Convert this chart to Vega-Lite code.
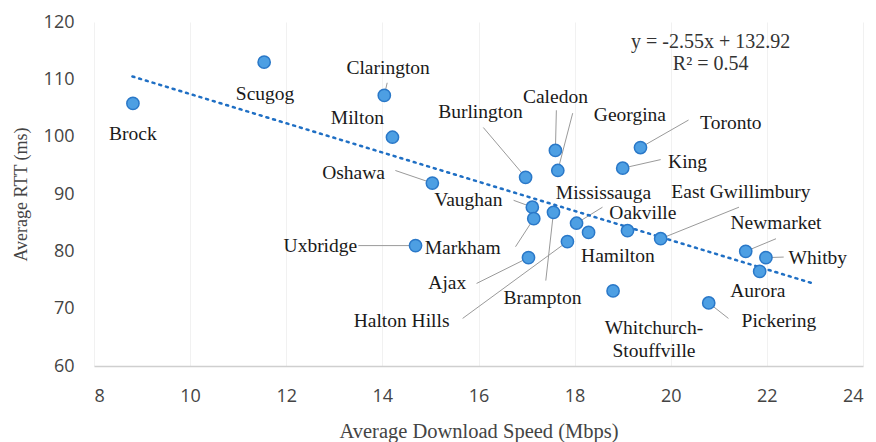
{
  "$schema": "https://vega.github.io/schema/vega-lite/v6.json",
  "width": 769,
  "height": 344,
  "autosize": "none",
  "padding": {"left": 94, "top": 22, "right": 13, "bottom": 76},
  "background": "white",
  "config": {"view": {"stroke": null}},
  "datasets": {
    "towns": [
      {"name": "Brock", "speed": 8.81, "rtt": 105.8, "lx": 8.81, "ly": 100.4, "ex": null, "ey": null},
      {"name": "Scugog", "speed": 11.54, "rtt": 113.0, "lx": 11.56, "ly": 107.4, "ex": null, "ey": null},
      {"name": "Clarington", "speed": 14.04, "rtt": 107.2, "lx": 14.12, "ly": 112.0, "ex": 14.1, "ey": 109.4},
      {"name": "Milton", "speed": 14.21, "rtt": 99.9, "lx": 13.48, "ly": 103.2, "ex": null, "ey": null},
      {"name": "Oshawa", "speed": 15.04, "rtt": 91.9, "lx": 13.4, "ly": 93.6, "ex": 14.27, "ey": 94.1},
      {"name": "Burlington", "speed": 16.98, "rtt": 92.9, "lx": 16.04, "ly": 104.3, "ex": 16.1, "ey": 101.6},
      {"name": "Caledon", "speed": 17.6, "rtt": 97.6, "lx": 17.6, "ly": 106.9, "ex": 17.62, "ey": 104.6},
      {"name": "Georgina", "speed": 17.65, "rtt": 94.1, "lx": 19.15, "ly": 103.7, "ex": 17.96, "ey": 104.1},
      {"name": "Toronto", "speed": 19.37, "rtt": 98.1, "lx": 21.25, "ly": 102.3, "ex": 20.37, "ey": 102.9},
      {"name": "King", "speed": 19.0, "rtt": 94.5, "lx": 20.35, "ly": 95.5, "ex": 19.79, "ey": 96.0},
      {"name": "Vaughan", "speed": 17.12, "rtt": 87.7, "lx": 15.79, "ly": 88.9, "ex": 16.73, "ey": 88.9},
      {"name": "Markham", "speed": 17.15, "rtt": 85.7, "lx": 15.67, "ly": 80.6, "ex": 16.77, "ey": 80.8},
      {"name": "Brampton", "speed": 17.56, "rtt": 86.8, "lx": 17.33, "ly": 71.9, "ex": 17.4, "ey": 74.9},
      {"name": "Oakville", "speed": 18.04, "rtt": 84.9, "lx": 19.42, "ly": 86.6, "ex": 18.58, "ey": 87.7},
      {"name": "Hamilton", "speed": 18.29, "rtt": 83.3, "lx": 18.9, "ly": 79.1, "ex": null, "ey": null},
      {"name": "Halton Hills", "speed": 17.85, "rtt": 81.7, "lx": 14.4, "ly": 67.9, "ex": 15.67, "ey": 68.3},
      {"name": "Ajax", "speed": 17.04, "rtt": 78.9, "lx": 15.35, "ly": 74.4, "ex": 15.96, "ey": 74.4},
      {"name": "Mississauga", "speed": 19.1, "rtt": 83.6, "lx": 18.6, "ly": 90.1, "ex": null, "ey": null},
      {"name": "East Gwillimbury", "speed": 19.79, "rtt": 82.2, "lx": 21.46, "ly": 90.3, "ex": 21.42, "ey": 87.7},
      {"name": "Uxbridge", "speed": 14.69, "rtt": 81.0, "lx": 12.71, "ly": 81.0, "ex": 13.5, "ey": 81.0},
      {"name": "Newmarket", "speed": 21.56, "rtt": 80.0, "lx": 22.19, "ly": 84.9, "ex": 22.19, "ey": 82.2},
      {"name": "Whitby", "speed": 21.98, "rtt": 78.9, "lx": 23.06, "ly": 78.9, "ex": 22.35, "ey": 79.0},
      {"name": "Aurora", "speed": 21.85, "rtt": 76.5, "lx": 21.81, "ly": 73.0, "ex": null, "ey": null},
      {"name": "Whitchurch-\nStouffville", "speed": 18.8, "rtt": 73.1, "lx": 19.65, "ly": 66.6, "ex": null, "ey": null},
      {"name": "Pickering", "speed": 20.79, "rtt": 71.0, "lx": 22.25, "ly": 67.9, "ex": 21.2, "ey": 68.3}
    ],
    "trend": [
      {"speed": 8.8, "rtt": 110.5},
      {"speed": 23.0, "rtt": 74.3}
    ],
    "eq": [
      {"t": "y = -2.55x + 132.92", "x": 20.83, "y": 116.5},
      {"t": "R² = 0.54", "x": 20.83, "y": 112.6}
    ]
  },
  "layer": [
    {
      "data": {"name": "towns"},
      "transform": [{"filter": "datum.ex != null"}],
      "mark": {"type": "rule", "color": "#9a9a9a", "strokeWidth": 1},
      "encoding": {
        "x": {"field": "ex", "type": "quantitative", "scale": {"domain": [8, 24], "nice": false, "zero": false},
          "axis": {"values": [8, 10, 12, 14, 16, 18, 20, 22, 24], "title": "Average Download Speed (Mbps)",
            "grid": true, "gridColor": "#f1f1f1", "domain": true, "domainColor": "#cfcfcf", "domainWidth": 1.5,
            "ticks": false, "labelFont": "Open Sans", "labelFontSize": 18, "labelColor": "#444",
            "labelPadding": 21, "titleFont": "Liberation Serif", "titleFontSize": 20.5, "titleColor": "#444",
            "titleFontWeight": "normal", "titleY": 65, "titleBaseline": "middle"}},
        "y": {"field": "ey", "type": "quantitative", "scale": {"domain": [60, 120], "nice": false, "zero": false},
          "axis": {"values": [60, 70, 80, 90, 100, 110, 120], "title": "Average RTT (ms)",
            "grid": false, "domain": false, "ticks": false, "labelFont": "Open Sans", "labelFontSize": 18,
            "labelColor": "#444", "labelPadding": 20, "titleFont": "Liberation Serif", "titleFontSize": 18,
            "titleColor": "#444", "titleFontWeight": "normal", "titleX": -73, "titleY": 172,
            "titleAlign": "center", "titleBaseline": "middle", "titleAngle": -90}},
        "x2": {"field": "speed"},
        "y2": {"field": "rtt"}
      }
    },
    {
      "data": {"name": "trend"},
      "mark": {"type": "line", "color": "#1f6fc4", "strokeWidth": 2.5, "strokeDash": [2, 5], "strokeCap": "round"},
      "encoding": {
        "x": {"field": "speed", "type": "quantitative"},
        "y": {"field": "rtt", "type": "quantitative"}
      }
    },
    {
      "data": {"name": "towns"},
      "mark": {"type": "point", "filled": true, "size": 150, "color": "#4d9fe3", "stroke": "#2a78c8", "strokeWidth": 1.5, "opacity": 1},
      "encoding": {
        "x": {"field": "speed", "type": "quantitative"},
        "y": {"field": "rtt", "type": "quantitative"}
      }
    },
    {
      "data": {"name": "towns"},
      "mark": {"type": "text", "font": "Liberation Serif", "fontSize": 19.5, "color": "#1a1a1a", "align": "center", "baseline": "middle", "lineBreak": "\n", "lineHeight": 23},
      "encoding": {
        "x": {"field": "lx", "type": "quantitative"},
        "y": {"field": "ly", "type": "quantitative"},
        "text": {"field": "name"}
      }
    },
    {
      "data": {"name": "eq"},
      "mark": {"type": "text", "font": "Liberation Serif", "fontSize": 20, "color": "#333", "align": "center", "baseline": "middle"},
      "encoding": {
        "x": {"field": "x", "type": "quantitative"},
        "y": {"field": "y", "type": "quantitative"},
        "text": {"field": "t"}
      }
    }
  ]
}
